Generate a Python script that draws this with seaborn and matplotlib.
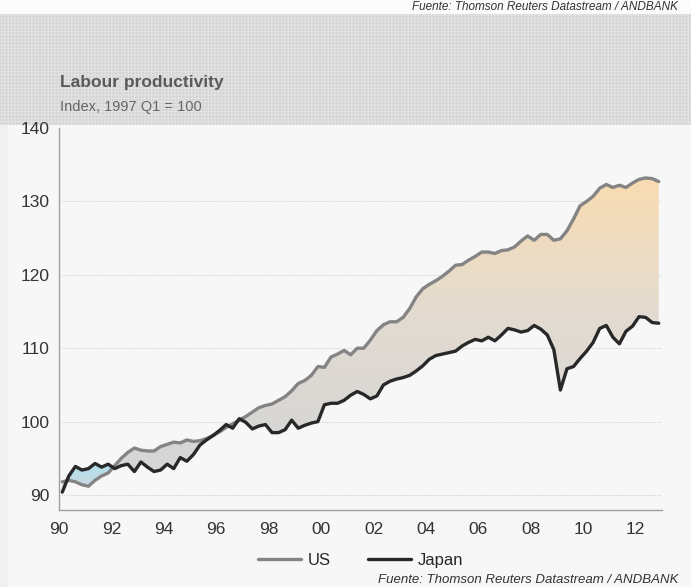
import numpy as np
import pandas as pd
import matplotlib
matplotlib.use('Agg')
import matplotlib.pyplot as plt
import seaborn as sns
from matplotlib.path import Path
from matplotlib.patches import Rectangle
from matplotlib.colors import LinearSegmentedColormap
from matplotlib.ticker import MultipleLocator, FixedLocator

# quarterly data, 1990 Q1 - 2012 Q4 (index, 1997 Q1 = 100)
quarters = pd.period_range('1990Q1', '2012Q4', freq='Q')

us = [91.8, 92.0, 91.8, 91.4, 91.2, 92.0, 92.6, 93.0, 94.0, 95.0,
      95.8, 96.4, 96.1, 96.0, 96.0, 96.6, 96.9, 97.2, 97.1, 97.5,
      97.3, 97.4, 97.7, 98.1, 98.6, 99.2, 99.7, 100.2, 100.7, 101.3,
      101.9, 102.2, 102.4, 102.9, 103.4, 104.2, 105.2, 105.6, 106.3, 107.5,
      107.4, 108.8, 109.2, 109.7, 109.1, 110.0, 110.0, 111.1, 112.4, 113.2,
      113.6, 113.6, 114.2, 115.4, 117.0, 118.1, 118.7, 119.2, 119.8, 120.5,
      121.3, 121.4, 122.0, 122.5, 123.1, 123.1, 122.9, 123.3, 123.4, 123.8,
      124.6, 125.3, 124.7, 125.5, 125.5, 124.7, 124.9, 126.0, 127.6, 129.4,
      130.0, 130.7, 131.8, 132.3, 131.9, 132.2, 131.9, 132.5, 133.0, 133.2,
      133.1, 132.7]

japan = [90.4, 92.6, 93.9, 93.4, 93.6, 94.3, 93.8, 94.2, 93.6, 94.0,
         94.2, 93.2, 94.5, 93.8, 93.2, 93.4, 94.2, 93.6, 95.1, 94.6,
         95.5, 96.8, 97.5, 98.1, 98.8, 99.6, 99.1, 100.4, 99.9, 99.0,
         99.4, 99.6, 98.5, 98.5, 98.9, 100.2, 99.1, 99.5, 99.8, 100.0,
         102.3, 102.5, 102.5, 102.9, 103.6, 104.1, 103.7, 103.1, 103.5, 105.0,
         105.5, 105.8, 106.0, 106.3, 106.9, 107.6, 108.5, 109.0, 109.2, 109.4,
         109.6, 110.3, 110.8, 111.2, 111.0, 111.5, 111.0, 111.8, 112.7, 112.5,
         112.2, 112.4, 113.1, 112.6, 111.8, 109.8, 104.3, 107.2, 107.5, 108.6,
         109.6, 110.8, 112.7, 113.1, 111.5, 110.6, 112.3, 113.0, 114.3, 114.2,
         113.5, 113.4]

series_names = ['US', 'Japan']
series_colors = ['#848484', '#282828']
y_ticks = [90, 100, 110, 120, 130, 140]
x_ticks = list(range(1990, 2013, 2))
x_labels = [f'{y % 100:02d}' for y in x_ticks]

years = np.array([q.year + (q.quarter - 1) / 4 + 0.125 for q in quarters])
df = pd.DataFrame({
    'date': np.concatenate([years, years]),
    'value': np.concatenate([us, japan]),
    'series': ['US'] * len(us) + ['Japan'] * len(japan),
})

sns.set_theme(style='white')
plt.rcParams['font.family'] = ['Liberation Sans', 'DejaVu Sans']
plt.rcParams['hatch.linewidth'] = 0.6

fig = plt.figure(figsize=(6.91, 5.87), dpi=100, facecolor='#f0f0f0')

# background panels (drawn below the axes)
fig.patches.append(Rectangle((8 / 691, 0), 1, 1, transform=fig.transFigure,
                             facecolor='#f7f7f7', edgecolor='none', zorder=-3))
fig.patches.append(Rectangle((0, (587 - 14) / 587), 1, 1, transform=fig.transFigure,
                             facecolor='#fbfbfb', edgecolor='none', zorder=-2))
fig.patches.append(Rectangle((0, (587 - 125) / 587), 1, 111 / 587, transform=fig.transFigure,
                             facecolor='#d5d5d5', edgecolor='#e4e4e4', hatch='+++++',
                             linewidth=0, zorder=-2))

ax = fig.add_axes([59 / 691, (587 - 509.7) / 587, 603 / 691, 381.7 / 587])
ax.set_facecolor('#f7f7f7')

x = years
y_us = np.array(us)
y_jp = np.array(japan)


def gradient_fill(ax, where, colors, lo, hi):
    coll = ax.fill_between(x, y_us, y_jp, where=where, interpolate=True,
                           facecolor='none', edgecolor='none')
    path = Path.make_compound_path(*coll.get_paths())
    ys = np.linspace(88, 140, 400)
    grad = np.clip((ys - lo) / (hi - lo), 0, 1).reshape(-1, 1)
    cmap = LinearSegmentedColormap.from_list('g', colors)
    im = ax.imshow(grad, cmap=cmap, vmin=0, vmax=1, aspect='auto', origin='lower',
                   extent=[1990, 2013, 88, 140], zorder=1, interpolation='bilinear')
    im.set_clip_path(path, transform=ax.transData)


gradient_fill(ax, y_us >= y_jp, ['#d6d6d6', '#e3dbd0', '#fadcb0'], 96, 134)
gradient_fill(ax, y_jp > y_us, ['#cdd9de', '#aee0f0'], 91, 94.3)

sns.lineplot(data=df, x='date', y='value', hue='series', hue_order=series_names,
             palette=dict(zip(series_names, series_colors)), linewidth=2.4,
             ax=ax, zorder=3)

ax.set_xlim(1990, 2013)
ax.set_ylim(88, 140)
ax.set_xlabel('')
ax.set_ylabel('')

ax.yaxis.set_major_locator(FixedLocator(y_ticks))
ax.yaxis.set_minor_locator(MultipleLocator(2))
ax.xaxis.set_major_locator(FixedLocator(x_ticks))
ax.xaxis.set_minor_locator(MultipleLocator(0.25))
ax.set_xticklabels(x_labels)
ax.tick_params(axis='both', which='major', labelsize=12.5, colors='#999999',
               labelcolor='#333333', length=4, width=0.8, direction='out')
ax.tick_params(axis='both', which='minor', colors='#999999', length=2.5, width=0.8,
               direction='out')
ax.tick_params(axis='y', pad=3)
ax.tick_params(axis='x', pad=5)

for yv in y_ticks[:-1]:
    ax.axhline(yv, color='#c8c8c8', linestyle=(0, (1, 1.5)), linewidth=0.7, zorder=0.5)

for s in ['top', 'right']:
    ax.spines[s].set_visible(False)
for s in ['left', 'bottom']:
    ax.spines[s].set_color('#a0a0a0')
    ax.spines[s].set_linewidth(1.0)

sns.move_legend(ax, 'center', bbox_to_anchor=(0.5, -0.132), ncol=2, frameon=False,
                title=None, fontsize=12, handlelength=2.6, columnspacing=2.2,
                handletextpad=0.4)

fig.text(60 / 691, (587 - 83) / 587, 'Labour productivity', fontsize=12.5,
         fontweight='bold', color='#5a5a5a', va='center', ha='left')
fig.text(60 / 691, (587 - 107) / 587, 'Index, 1997 Q1 = 100', fontsize=10.5,
         color='#666666', va='center', ha='left')
fig.text(678 / 691, (587 - 580) / 587, 'Fuente: Thomson Reuters Datastream / ANDBANK',
         fontsize=9.5, style='italic', color='#333333', va='center', ha='right')
fig.text(678 / 691, (587 - 1) / 587, 'Fuente: Thomson Reuters Datastream / ANDBANK',
         fontsize=8.5, style='italic', color='#333333', va='top', ha='right')

fig.savefig('out.png', dpi=100, facecolor=fig.get_facecolor())
